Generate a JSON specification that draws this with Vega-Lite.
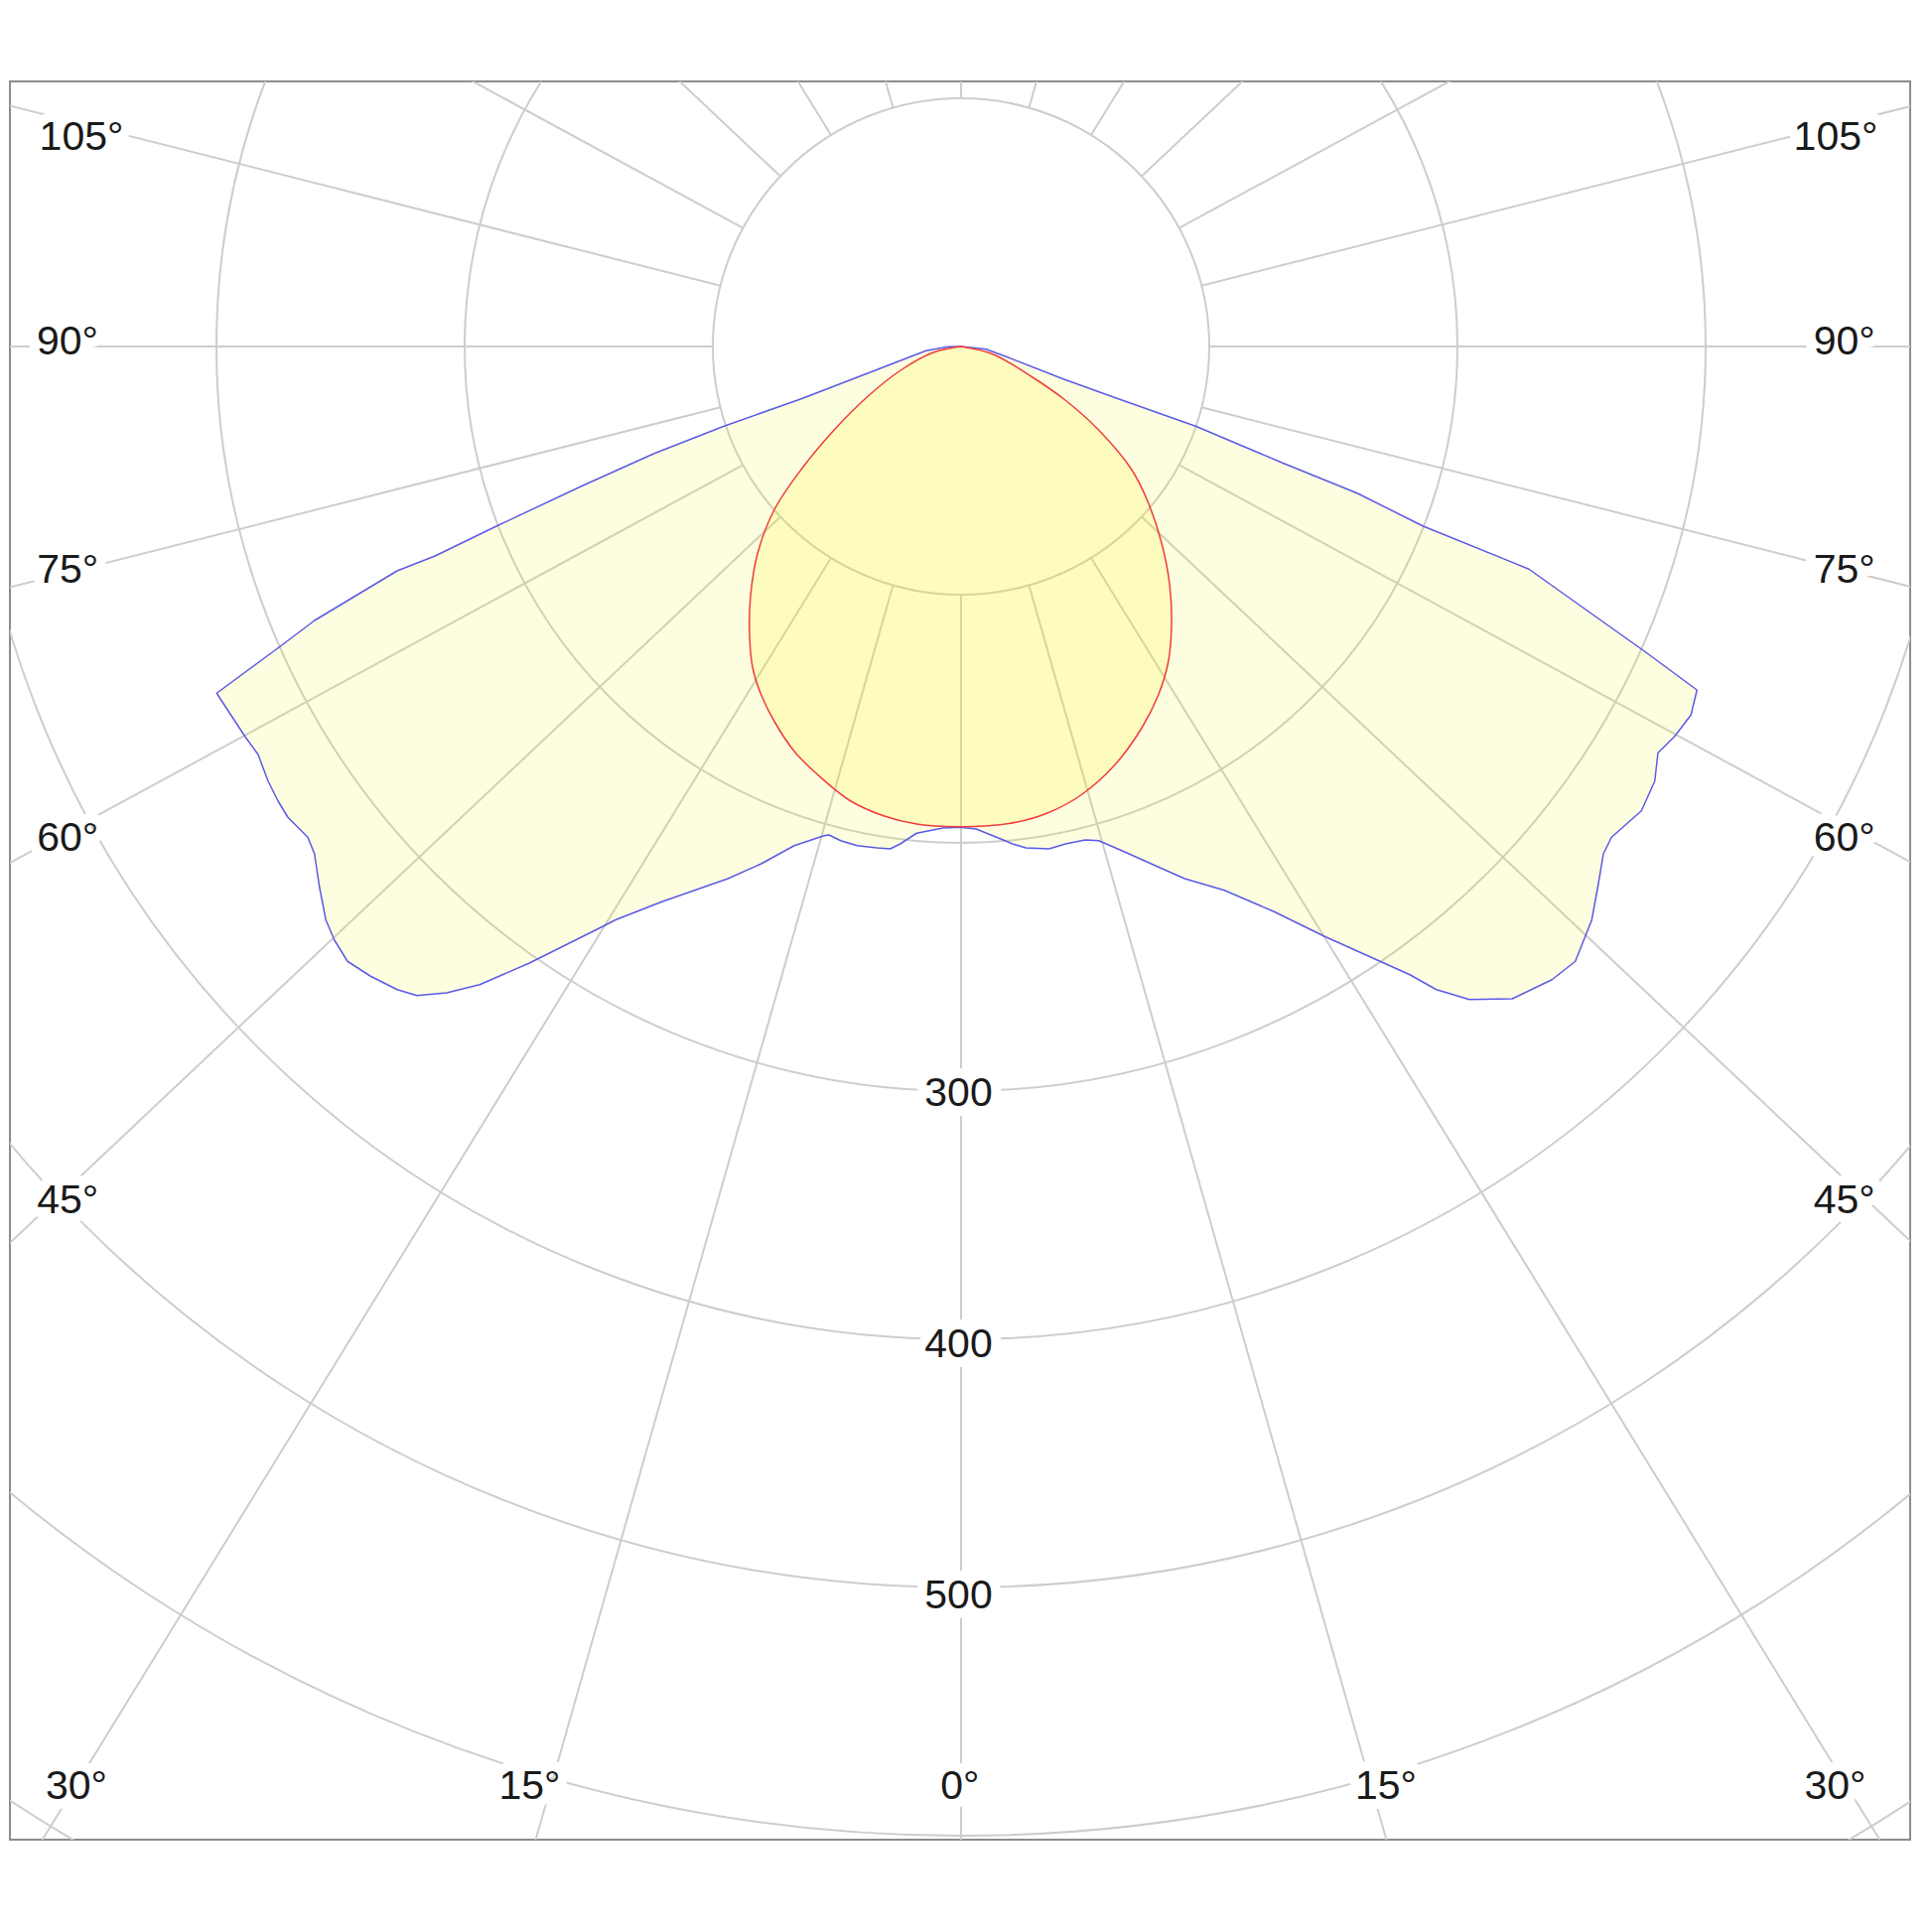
{
  "$schema": "https://vega.github.io/schema/vega-lite/v6.json",
  "background": "white",
  "padding": {"left": 10, "top": 82, "right": 22, "bottom": 93},
  "width": 1914,
  "height": 1771,
  "config": {
    "view": {"stroke": "#8c8c8c", "strokeWidth": 2},
    "text": {"font": "Liberation Sans"}
  },
  "datasets": {
    "circles": [
      {"r": 100}, {"r": 200}, {"r": 300}, {"r": 400},
      {"r": 500}, {"r": 600}, {"r": 700}, {"r": 800}
    ],
    "spokes": [
      {"a": -164.1}, {"a": -148.4}, {"a": -133.3}, {"a": -118.5}, {"a": -104.2}, {"a": -90},
      {"a": -75.8}, {"a": -61.5}, {"a": -46.7}, {"a": -31.6}, {"a": -15.9}, {"a": 0},
      {"a": 15.9}, {"a": 31.6}, {"a": 46.7}, {"a": 61.5}, {"a": 75.8}, {"a": 90},
      {"a": 104.2}, {"a": 118.5}, {"a": 133.3}, {"a": 148.4}, {"a": 164.1}, {"a": 180}
    ],
    "c90": [
      {"i": 0, "x": 0, "y": 0}, {"i": 1, "x": -5.2, "y": -0.1}, {"i": 2, "x": -14.1, "y": -1.7},
      {"i": 3, "x": -34.8, "y": -9.7}, {"i": 4, "x": -64.4, "y": -21.1}, {"i": 5, "x": -95.5, "y": -32.1},
      {"i": 6, "x": -123.6, "y": -43.1}, {"i": 7, "x": -153.2, "y": -56.4}, {"i": 8, "x": -187.2, "y": -72.4},
      {"i": 9, "x": -211.9, "y": -84.4}, {"i": 10, "x": -227.2, "y": -90.4}, {"i": 11, "x": -260.5, "y": -110.4},
      {"i": 12, "x": -275.2, "y": -121.5}, {"i": 13, "x": -299.9, "y": -139.7}, {"i": 14, "x": -288.5, "y": -157.1},
      {"i": 15, "x": -283.2, "y": -164.4}, {"i": 16, "x": -279.2, "y": -175.1}, {"i": 17, "x": -275.2, "y": -183.1},
      {"i": 18, "x": -271.2, "y": -189.7}, {"i": 19, "x": -263.2, "y": -197.7}, {"i": 20, "x": -260.5, "y": -204.4},
      {"i": 21, "x": -258.5, "y": -217.7}, {"i": 22, "x": -255.9, "y": -231.1}, {"i": 23, "x": -252.5, "y": -239.1},
      {"i": 24, "x": -247.2, "y": -247.7}, {"i": 25, "x": -237.9, "y": -253.7}, {"i": 26, "x": -227.2, "y": -259.1},
      {"i": 27, "x": -219.2, "y": -261.5}, {"i": 28, "x": -207.2, "y": -260.4}, {"i": 29, "x": -193.9, "y": -257.1},
      {"i": 30, "x": -173.9, "y": -248.4}, {"i": 31, "x": -147.2, "y": -235.1}, {"i": 32, "x": -139.2, "y": -231.0},
      {"i": 33, "x": -120.5, "y": -223.7}, {"i": 34, "x": -93.9, "y": -214.4}, {"i": 35, "x": -80.5, "y": -208.4},
      {"i": 36, "x": -67.2, "y": -201.1}, {"i": 37, "x": -55.2, "y": -197.1}, {"i": 38, "x": -53.2, "y": -196.8},
      {"i": 39, "x": -48.5, "y": -199.1}, {"i": 40, "x": -41.9, "y": -201.1}, {"i": 41, "x": -33.9, "y": -202.0},
      {"i": 42, "x": -28.5, "y": -202.4}, {"i": 43, "x": -24.5, "y": -200.4}, {"i": 44, "x": -17.9, "y": -196.1},
      {"i": 45, "x": -7.2, "y": -194.0}, {"i": 46, "x": -0.5, "y": -193.7}, {"i": 47, "x": 6.1, "y": -194.4},
      {"i": 48, "x": 12.8, "y": -197.1}, {"i": 49, "x": 20.8, "y": -200.4}, {"i": 50, "x": 26.1, "y": -202.0},
      {"i": 51, "x": 35.5, "y": -202.4}, {"i": 52, "x": 42.1, "y": -200.4}, {"i": 53, "x": 50.1, "y": -198.8},
      {"i": 54, "x": 55.5, "y": -199.1}, {"i": 55, "x": 66.1, "y": -203.7}, {"i": 56, "x": 79.5, "y": -209.7},
      {"i": 57, "x": 90.1, "y": -214.4}, {"i": 58, "x": 106.1, "y": -219.1}, {"i": 59, "x": 126.1, "y": -227.7},
      {"i": 60, "x": 146.1, "y": -237.5}, {"i": 61, "x": 180.8, "y": -253.1}, {"i": 62, "x": 191.5, "y": -259.1},
      {"i": 63, "x": 204.8, "y": -263.1}, {"i": 64, "x": 222.1, "y": -262.8}, {"i": 65, "x": 238.1, "y": -255.1},
      {"i": 66, "x": 247.5, "y": -247.7}, {"i": 67, "x": 254.1, "y": -231.1}, {"i": 68, "x": 256.8, "y": -216.4},
      {"i": 69, "x": 258.8, "y": -204.4}, {"i": 70, "x": 262.1, "y": -197.7}, {"i": 71, "x": 274.1, "y": -187.1},
      {"i": 72, "x": 279.5, "y": -175.1}, {"i": 73, "x": 280.8, "y": -163.7}, {"i": 74, "x": 287.5, "y": -157.1},
      {"i": 75, "x": 294.1, "y": -148.4}, {"i": 76, "x": 296.5, "y": -138.4}, {"i": 77, "x": 274.8, "y": -122.4},
      {"i": 78, "x": 254.1, "y": -107.7}, {"i": 79, "x": 228.8, "y": -89.7}, {"i": 80, "x": 186.2, "y": -72.4},
      {"i": 81, "x": 159.6, "y": -59.1}, {"i": 82, "x": 130.0, "y": -47.1}, {"i": 83, "x": 94.5, "y": -32.1},
      {"i": 84, "x": 63.4, "y": -21.1}, {"i": 85, "x": 41.2, "y": -13.1}, {"i": 86, "x": 19.0, "y": -4.4},
      {"i": 87, "x": 10.1, "y": -1.1}, {"i": 88, "x": 0, "y": 0}
    ],
    "c0": [
      {"i": 0, "x": 0, "y": 0}, {"i": 1, "x": -11.2, "y": -2.4}, {"i": 2, "x": -24.5, "y": -9.7},
      {"i": 3, "x": -37.9, "y": -20.4}, {"i": 4, "x": -51.2, "y": -33.7}, {"i": 5, "x": -64.5, "y": -49.7},
      {"i": 6, "x": -75.2, "y": -65.7}, {"i": 7, "x": -81.9, "y": -83.1}, {"i": 8, "x": -84.8, "y": -100.4},
      {"i": 9, "x": -85.2, "y": -116.4}, {"i": 10, "x": -83.9, "y": -129.7}, {"i": 11, "x": -80.5, "y": -140.4},
      {"i": 12, "x": -75.2, "y": -151.1}, {"i": 13, "x": -67.2, "y": -163.1}, {"i": 14, "x": -57.9, "y": -172.4},
      {"i": 15, "x": -44.5, "y": -183.1}, {"i": 16, "x": -31.2, "y": -189.1}, {"i": 17, "x": -17.9, "y": -192.4},
      {"i": 18, "x": 0, "y": -193.5}, {"i": 19, "x": 22.1, "y": -191.7}, {"i": 20, "x": 35.5, "y": -187.7},
      {"i": 21, "x": 48.8, "y": -180.4}, {"i": 22, "x": 62.1, "y": -168.4}, {"i": 23, "x": 72.8, "y": -153.7},
      {"i": 24, "x": 79.5, "y": -140.4}, {"i": 25, "x": 83.5, "y": -127.1}, {"i": 26, "x": 84.8, "y": -112.4},
      {"i": 27, "x": 84.1, "y": -96.4}, {"i": 28, "x": 80.8, "y": -79.1}, {"i": 29, "x": 75.5, "y": -63.1},
      {"i": 30, "x": 68.8, "y": -49.7}, {"i": 31, "x": 55.5, "y": -33.7}, {"i": 32, "x": 42.1, "y": -21.7},
      {"i": 33, "x": 28.8, "y": -12.4}, {"i": 34, "x": 12.8, "y": -3.1}, {"i": 35, "x": 0, "y": 0}
    ],
    "labels": [
      {"t": "105°", "x": -354.4, "y": 84.2}, {"t": "90°", "x": -360, "y": 1.6},
      {"t": "75°", "x": -359.9, "y": -90.2}, {"t": "60°", "x": -359.9, "y": -198.4},
      {"t": "45°", "x": -359.9, "y": -344.4}, {"t": "30°", "x": -356.4, "y": -580.2},
      {"t": "15°", "x": -173.8, "y": -580.2}, {"t": "0°", "x": -0.5, "y": -580.2},
      {"t": "15°", "x": 171.2, "y": -580.2}, {"t": "30°", "x": 352.2, "y": -580.4},
      {"t": "105°", "x": 352.4, "y": 84.2}, {"t": "90°", "x": 355.9, "y": 1.6},
      {"t": "75°", "x": 355.9, "y": -90.2}, {"t": "60°", "x": 355.9, "y": -198.4},
      {"t": "45°", "x": 355.9, "y": -344.4},
      {"t": "300", "x": -1, "y": -301.2}, {"t": "400", "x": -1, "y": -402.4},
      {"t": "500", "x": -1, "y": -503.6}
    ]
  },
  "layer": [
    {
      "data": {"name": "circles"},
      "mark": {"type": "arc", "theta": 0, "theta2": 6.2832, "filled": false, "stroke": "#cdcdcd", "strokeWidth": 2, "clip": true},
      "encoding": {
        "x": {"datum": 0, "type": "quantitative", "scale": {"domain": [-383.2, 382.4], "nice": false, "zero": false}, "axis": null},
        "y": {"datum": 0, "type": "quantitative", "scale": {"domain": [-601.6, 106.8], "nice": false, "zero": false}, "axis": null},
        "radius": {"field": "r", "type": "quantitative", "stack": null, "scale": {"type": "linear", "domain": [0, 1000], "range": [0, 2500], "zero": true}}
      }
    },
    {
      "data": {"name": "spokes"},
      "mark": {"type": "arc", "filled": false, "stroke": "#cdcdcd", "strokeWidth": 2, "clip": true},
      "encoding": {
        "x": {"datum": 0, "type": "quantitative", "scale": {"domain": [-383.2, 382.4], "nice": false, "zero": false}, "axis": null},
        "y": {"datum": 0, "type": "quantitative", "scale": {"domain": [-601.6, 106.8], "nice": false, "zero": false}, "axis": null},
        "theta": {"field": "a", "type": "quantitative", "stack": null, "scale": {"domain": [-180, 180], "range": [6.283185307, 0]}},
        "theta2": {"field": "a"},
        "radius": {"datum": 1000, "type": "quantitative", "stack": null, "scale": {"type": "linear", "domain": [0, 1000], "range": [0, 2500], "zero": true}},
        "radius2": {"datum": 100}
      }
    },
    {
      "data": {"name": "c90"},
      "mark": {"type": "line", "fill": "#f0f000", "fillOpacity": 0.12, "stroke": "#5a5ae6", "strokeWidth": 1.5, "strokeJoin": "round", "clip": true},
      "encoding": {
        "x": {"field": "x", "type": "quantitative", "scale": {"domain": [-383.2, 382.4], "nice": false, "zero": false}, "axis": null},
        "y": {"field": "y", "type": "quantitative", "scale": {"domain": [-601.6, 106.8], "nice": false, "zero": false}, "axis": null},
        "order": {"field": "i", "type": "quantitative"}
      }
    },
    {
      "data": {"name": "c0"},
      "mark": {"type": "line", "interpolate": "catmull-rom", "fill": "#fff000", "fillOpacity": 0.15, "stroke": "#f03c3c", "strokeWidth": 1.5, "clip": true},
      "encoding": {
        "x": {"field": "x", "type": "quantitative", "scale": {"domain": [-383.2, 382.4], "nice": false, "zero": false}, "axis": null},
        "y": {"field": "y", "type": "quantitative", "scale": {"domain": [-601.6, 106.8], "nice": false, "zero": false}, "axis": null},
        "order": {"field": "i", "type": "quantitative"}
      }
    },
    {
      "data": {"name": "labels"},
      "mark": {"type": "text", "fontSize": 41, "align": "center", "baseline": "middle", "stroke": "white", "strokeWidth": 20, "strokeJoin": "round", "fill": "white"},
      "encoding": {
        "x": {"field": "x", "type": "quantitative", "scale": {"domain": [-383.2, 382.4], "nice": false, "zero": false}, "axis": null},
        "y": {"field": "y", "type": "quantitative", "scale": {"domain": [-601.6, 106.8], "nice": false, "zero": false}, "axis": null},
        "text": {"field": "t"}
      }
    },
    {
      "data": {"name": "labels"},
      "mark": {"type": "text", "fontSize": 41, "align": "center", "baseline": "middle", "fill": "#1a1a1a"},
      "encoding": {
        "x": {"field": "x", "type": "quantitative", "scale": {"domain": [-383.2, 382.4], "nice": false, "zero": false}, "axis": null},
        "y": {"field": "y", "type": "quantitative", "scale": {"domain": [-601.6, 106.8], "nice": false, "zero": false}, "axis": null},
        "text": {"field": "t"}
      }
    }
  ]
}
